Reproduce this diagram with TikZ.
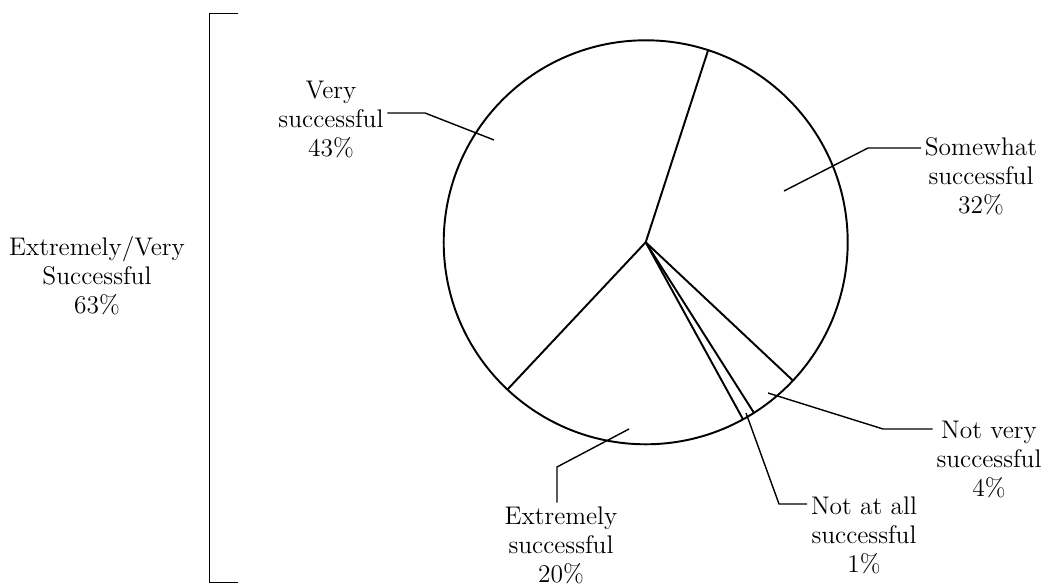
\documentclass[tikz,border=0pt]{standalone}
\usepackage{tikz}
\usetikzlibrary{calc, positioning}

\begin{document}
\begin{tikzpicture}[x=0.02cm, y=0.02cm,
                        lbl/.style={align=center, inner sep=2pt, font=\fontsize{14.5}{16.5}\selectfont},
                        pie/.style={line width=1.1pt},
                        leader/.style={line width=0.8pt}]
                        \useasboundingbox (0, 0) rectangle (1050, 587);
                        \coordinate (c) at (645.7, 344.7);
                        \draw[pie] (c) circle (202);
                        \foreach \a in {72, 226.8, 298.8, 302.4, 316.8}
                            \draw[pie] (c) -- ++(\a:202);
                        \node[lbl] (vs) at (331, 467) {Very\\successful\\43\%};
                        \node[lbl] (sw) at (981, 411) {Somewhat\\successful\\32\%};
                        \node[lbl] (nv) at (989, 127) {Not very\\successful\\4\%};
                        \node[lbl] (na) at (864, 52) {Not at all\\successful\\1\%};
                        \node[lbl] (es) at (561, 42) {Extremely\\successful\\20\%};
                        \node[lbl] (ev) at (97, 311) {Extremely/Very\\Successful\\63\%};
                        \coordinate (vs-bend) at (425, 474);
                        \coordinate (vs-tip) at (494, 447);
                        \coordinate (sw-tip) at (784, 396);
                        \coordinate (sw-bend) at (868, 439);
                        \coordinate (nv-tip) at (768, 194);
                        \coordinate (nv-bend) at (883, 158);
                        \coordinate (na-tip) at (746, 174);
                        \coordinate (na-bend) at (779, 83);
                        \coordinate (es-tip) at (629, 158);
                        \coordinate (es-bend) at (557, 120);
                        \draw[leader]
                        (vs.east |- vs-bend) -- (vs-bend) -- (vs-tip)
                        (sw-tip) -- (sw-bend) -- (sw.west |- sw-bend)
                        (nv-tip) -- (nv-bend) -- (nv.west |- nv-bend)
                        (na-tip) -- (na-bend) -- (na.west |- na-bend)
                        (es-tip) -- (es-bend) -- (es-bend |- es.north);
                        \coordinate (br-top) at (238, 574);
                        \coordinate (br-bot) at (238, 5);
                        \draw[line width=0.5pt] (br-top) -- ++(-29, 0) |- (br-bot);
                    \end{tikzpicture}
\end{document}
